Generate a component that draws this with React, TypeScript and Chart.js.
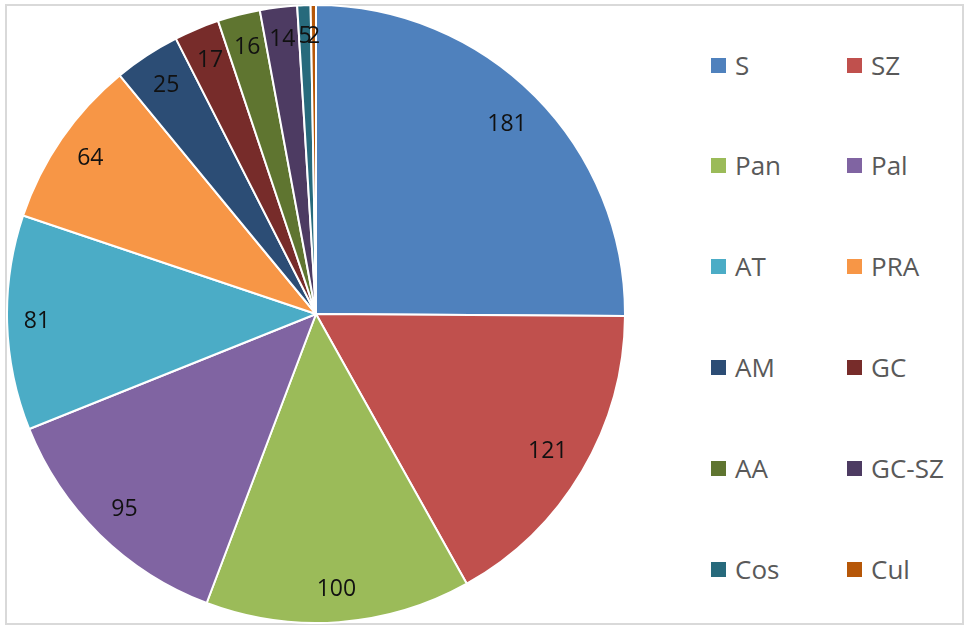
import React, { useEffect, useRef } from "react";
import { Chart, registerables } from "chart.js";

Chart.register(...registerables);

const categories = ["S", "SZ", "Pan", "Pal", "AT", "PRA", "AM", "GC", "AA", "GC-SZ", "Cos", "Cul"];
const values = [181, 121, 100, 95, 81, 64, 25, 17, 16, 14, 5, 2];
const colors = ["#4F81BD", "#C0504D", "#9BBB59", "#8064A2", "#4BACC6", "#F79646", "#2C4D75", "#772C2A", "#5F7530", "#4D3B62", "#276A7C", "#B65708"];

const FONT = "'Open Sans', 'Noto Sans', sans-serif";

// "inside end" placement: the label box is kept just inside the outer arc
const labelPlugin = {
  id: "sliceLabels",
  afterDatasetsDraw(chart: any) {
    const ctx = chart.ctx;
    const meta = chart.getDatasetMeta(0);
    ctx.save();
    ctx.font = `23px ${FONT}`;
    ctx.fillStyle = "#111111";
    ctx.textAlign = "center";
    ctx.textBaseline = "middle";
    meta.data.forEach((arc: any, i: number) => {
      const p = arc.getProps(["x", "y", "startAngle", "endAngle", "outerRadius"], true);
      const mid = (p.startAngle + p.endAngle) / 2;
      const text = String(values[i]);
      const w = ctx.measureText(text).width * 0.92;
      const h = 28;
      const limit = p.outerRadius - 17;
      const c = Math.abs(Math.cos(mid));
      const s = Math.abs(Math.sin(mid));
      const b = c * w / 2 + s * h / 2;
      const d = -b + Math.sqrt(b * b + limit * limit - (w * w + h * h) / 4);
      ctx.fillText(text, p.x + Math.cos(mid) * d, p.y + Math.sin(mid) * d);
    });
    ctx.restore();
  },
};

export default function App() {
  const ref = useRef<HTMLCanvasElement | null>(null);
  useEffect(() => {
    if (!ref.current) return;
    const chart = new Chart(ref.current, {
      type: "pie",
      data: {
        labels: categories,
        datasets: [
          {
            data: values,
            backgroundColor: colors,
            borderColor: "#ffffff",
            borderWidth: 2,
            hoverOffset: 0,
          },
        ],
      },
      options: {
        animation: false,
        responsive: false,
        maintainAspectRatio: false,
        layout: { padding: 0 },
        plugins: {
          legend: { display: false },
          tooltip: { enabled: false },
        },
      },
      plugins: [labelPlugin],
    });
    return () => chart.destroy();
  }, []);

  const rowY = [65, 165, 266, 367, 468, 569];
  const colSq = [711, 847];
  const colText = [735, 871];

  return (
    <div style={{ position: "absolute", left: 0, top: 0, width: 965, height: 625, background: "#fff", overflow: "hidden" }}>
      <div
        style={{
          position: "absolute",
          left: 5,
          top: 4,
          width: 955,
          height: 617,
          border: "2px solid #d9d9d9",
        }}
      />
      <canvas
        ref={ref}
        width={620}
        height={620}
        style={{ position: "absolute", left: 6, top: 4, width: 620, height: 620 }}
      />
      {categories.map((c, i) => {
        const row = Math.floor(i / 2);
        const col = i % 2;
        const y = rowY[row];
        return (
          <React.Fragment key={c}>
            <div
              style={{
                position: "absolute",
                left: colSq[col],
                top: y - 7,
                width: 15,
                height: 15,
                background: colors[i],
              }}
            />
            <div
              style={{
                position: "absolute",
                left: colText[col],
                top: y - 18,
                height: 36,
                lineHeight: "36px",
                fontFamily: FONT,
                fontSize: 26,
                color: "#595959",
                whiteSpace: "nowrap",
              }}
            >
              {c}
            </div>
          </React.Fragment>
        );
      })}
    </div>
  );
}
